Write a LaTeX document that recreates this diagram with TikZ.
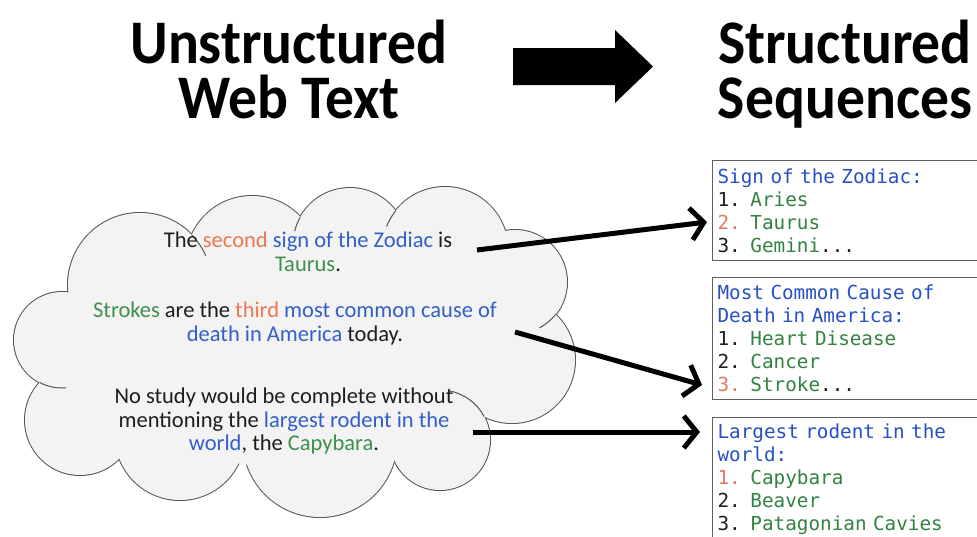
\documentclass[tikz,border=0pt]{standalone}
\usepackage{fontspec}
\setmainfont{Carlito}
\newfontfamily\titlefont{Carlito}[FakeStretch=0.93]
\newfontfamily\monofont{DejaVu Sans Mono}
\usetikzlibrary{arrows.meta}

\definecolor{cloudfill}{RGB}{243,243,243}
\definecolor{cloudline}{RGB}{85,85,85}
\definecolor{boxline}{RGB}{95,95,95}
\definecolor{inkdark}{RGB}{30,30,30}
\definecolor{wblue}{RGB}{50,95,200}
\definecolor{wgreen}{RGB}{60,145,75}
\definecolor{worange}{RGB}{235,120,80}
\definecolor{mblue}{RGB}{40,80,195}
\definecolor{mgreen}{RGB}{50,130,65}
\definecolor{morange}{RGB}{230,120,100}

\tikzset{
  headline/.style={font=\titlefont\bfseries\fontsize{62}{55}\selectfont, align=center,
    anchor=north, inner sep=0pt},
  cloudtext/.style={font=\fontsize{22.5}{23.5}\selectfont, text=inkdark, align=center, anchor=north, inner sep=0pt},
  seqbox/.style={draw=boxline, line width=1.2pt, fill=white, anchor=north west,
    text width=280pt, inner xsep=5pt, inner ysep=0pt, align=left, text=inkdark,
    font=\monofont\fontsize{19.3}{23}\selectfont},
  linkarrow/.style={line width=5pt, -{Straight Barb[length=13pt, width=32pt]}},
  puffline/.style={draw=cloudline, line width=1pt},
}

% one puff of the cloud: centre x, centre y, radius
\def\puffs{62/340/48, 140/285/72, 252/262/66, 350/245/57, 445/250/63,
  515/282/52, 512/360/63, 440/440/50, 320/440/77, 180/435/65, 80/420/55}

\begin{document}
\begin{tikzpicture}[x=1pt, y=-1pt]
\path[use as bounding box, clip] (0,0) rectangle (977,536);
\fill[white] (0,0) rectangle (977,536);

% headings
\node[headline] (unstructured) at (289,20) {Unstructured\\Web Text};
\node[headline] (structured) at (845,20) {Structured\\Sequences};

% block arrow between the headings
\fill[black] (513,48) -- (615,48) -- (615,30) -- (653,66.5) -- (615,103)
  -- (615,85) -- (513,85) -- cycle;

% cloud: outline of the union of the puffs
\foreach \cx/\cy/\r in \puffs
  \draw[cloudline, line width=2pt] (\cx,\cy) circle[radius=\r];
\foreach \cx/\cy/\r in \puffs
  \fill[cloudfill] (\cx,\cy) circle[radius=\r];
\fill[cloudfill] (300,350) ellipse[x radius=225, y radius=118];

% inner strokes of the cloud
\draw[puffline] (62,340) ++(117.6:48) arc[start angle=117.6, end angle=85, radius=48];
\draw[puffline] (140,285) ++(-44:72) arc[start angle=-44, end angle=-24, radius=72];
\draw[puffline] (350,245) ++(-151:57) arc[start angle=-151, end angle=-166, radius=57];
\draw[puffline] (445,250) ++(-141.5:63) arc[start angle=-141.5, end angle=-158, radius=63];
\draw[puffline] (515,282) ++(38.7:52) arc[start angle=38.7, end angle=62, radius=52];
\draw[puffline] (440,440) ++(-28:50) arc[start angle=-28, end angle=-80, radius=50];

% sentences inside the cloud
\node[cloudtext] (zodiacsent) at (308,232)
  {The \textcolor{worange}{second} \textcolor{wblue}{sign of the Zodiac} is\\
   \textcolor{wgreen}{Taurus}.};
\node[cloudtext] (strokesent) at (295,302)
  {\textcolor{wgreen}{Strokes} are the \textcolor{worange}{third} \textcolor{wblue}{most common cause of}\\
   \textcolor{wblue}{death in America} today.};
\node[cloudtext] (rodentsent) at (284,388)
  {No study would be complete without\\
   mentioning the \textcolor{wblue}{largest rodent in the}\\
   \textcolor{wblue}{world}, the \textcolor{wgreen}{Capybara}.};

% extracted sequences
\node[seqbox, minimum height=100pt] (zodiacbox) at (712,160)
  {\textcolor{mblue}{Sign of the Zodiac:}\\
   1. \textcolor{mgreen}{Aries}\\
   \textcolor{morange}{2.} \textcolor{mgreen}{Taurus}\\
   3. \textcolor{mgreen}{Gemini}...};
\node[seqbox, minimum height=122pt] (causebox) at (712,277)
  {\textcolor{mblue}{Most Common Cause of}\\
   \textcolor{mblue}{Death in America:}\\
   1. \textcolor{mgreen}{Heart Disease}\\
   2. \textcolor{mgreen}{Cancer}\\
   \textcolor{morange}{3.} \textcolor{mgreen}{Stroke}...};
\node[seqbox, minimum height=124pt] (rodentbox) at (712,417)
  {\textcolor{mblue}{Largest rodent in the}\\
   \textcolor{mblue}{world:}\\
   \textcolor{morange}{1.} \textcolor{mgreen}{Capybara}\\
   2. \textcolor{mgreen}{Beaver}\\
   3. \textcolor{mgreen}{Patagonian Cavies}};

% links from sentences to sequences
\coordinate (from1) at (477,250);
\coordinate (to1) at (707,222);
\coordinate (from2) at (515,332);
\coordinate (to2) at (702,385);
\coordinate (from3) at (473,432);
\coordinate (to3) at (700,432);
\draw[linkarrow] (from1) -- (to1);
\draw[linkarrow] (from2) -- (to2);
\draw[linkarrow] (from3) -- (to3);
\end{tikzpicture}
\end{document}
